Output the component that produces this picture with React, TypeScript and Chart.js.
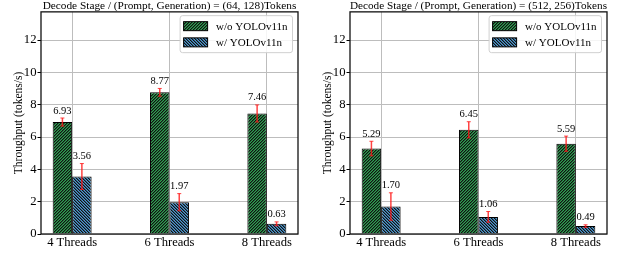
import React, { useEffect, useRef } from "react";
import { Chart, registerables } from "chart.js";

Chart.register(...registerables);

// ---------------- data ----------------
const categories = ["4 Threads", "6 Threads", "8 Threads"];
const seriesNames = ["w/o YOLOv11n", "w/ YOLOv11n"];
const titleLeft = "Decode Stage / (Prompt, Generation) = (64, 128)Tokens";
const titleRight = "Decode Stage / (Prompt, Generation) = (512, 256)Tokens";
const yLabel = "Throughput (tokens/s)";

const leftWithout = [6.93, 8.77, 7.46];
const leftWith = [3.56, 1.97, 0.63];
const leftWithoutErr = [0.25, 0.24, 0.53];
const leftWithErr = [0.8, 0.53, 0.12];

const rightWithout = [5.29, 6.45, 5.59];
const rightWith = [1.7, 1.06, 0.49];
const rightWithoutErr = [0.45, 0.5, 0.47];
const rightWithErr = [0.85, 0.33, 0.08];

const yMin = 0;
const yMax = 13.75;
const yStep = 2;

// ---------------- styles ----------------
const FONT = "'Liberation Serif', 'Times New Roman', serif";
const GREEN = "#2fa052";
const BLUE = "#4d98d0";
const HATCH = "#111111";

Chart.defaults.font.family = FONT;

function makeHatch(base: string, dir: 1 | -1): CanvasPattern | string {
  const n = 3;
  const c = document.createElement("canvas");
  c.width = n;
  c.height = n;
  const ctx = c.getContext("2d");
  if (!ctx) return base;
  ctx.fillStyle = base;
  ctx.fillRect(0, 0, n, n);
  for (let x = 0; x < n; x++) {
    for (let y = 0; y < n; y++) {
      const k = dir === 1 ? (x + y) % n : (((x - y) % n) + n) % n;
      if (k === 0) {
        ctx.fillStyle = HATCH;
        ctx.fillRect(x, y, 1, 1);
      } else if (k === 1) {
        ctx.fillStyle = "rgba(17,17,17,0.45)";
        ctx.fillRect(x, y, 1, 1);
      }
    }
  }
  return ctx.createPattern(c, "repeat") || base;
}

type PanelProps = {
  title: string;
  without: number[];
  withY: number[];
  withoutErr: number[];
  withErr: number[];
};

function Panel({ title, without, withY, withoutErr, withErr }: PanelProps) {
  const ref = useRef<HTMLCanvasElement | null>(null);

  useEffect(() => {
    if (!ref.current) return;
    const green = makeHatch(GREEN, 1);
    const blue = makeHatch(BLUE, -1);
    const errs = [withoutErr, withErr];
    const vals = [without, withY];
    const patterns = [green, blue];

    const overlay = {
      id: "overlay",
      afterDraw(chart: any) {
        const ctx: CanvasRenderingContext2D = chart.ctx;
        const area = chart.chartArea;
        const ys = chart.scales.y;
        ctx.save();
        // frame
        ctx.strokeStyle = "#111";
        ctx.lineWidth = 1.3;
        ctx.strokeRect(area.left, area.top, area.right - area.left, area.bottom - area.top);

        // error bars + value labels
        for (let d = 0; d < 2; d++) {
          const meta = chart.getDatasetMeta(d);
          meta.data.forEach((el: any, i: number) => {
            const v = vals[d][i];
            const e = errs[d][i];
            const x = el.x;
            const yTop = ys.getPixelForValue(v + e);
            const yBot = ys.getPixelForValue(v - e);
            ctx.strokeStyle = "rgba(255,20,20,0.8)";
            ctx.lineWidth = 1.5;
            ctx.beginPath();
            ctx.moveTo(x, yTop);
            ctx.lineTo(x, yBot);
            ctx.stroke();
            ctx.lineWidth = 1;
            ctx.beginPath();
            ctx.moveTo(x - 2, yTop);
            ctx.lineTo(x + 2, yTop);
            ctx.moveTo(x - 2, yBot);
            ctx.lineTo(x + 2, yBot);
            ctx.stroke();

            ctx.fillStyle = "#000";
            ctx.font = `10.5px ${FONT}`;
            ctx.textAlign = "center";
            ctx.textBaseline = "alphabetic";
            ctx.fillText(v.toFixed(2), x, yTop - 4.5);
          });
        }

        // legend
        ctx.font = `11px ${FONT}`;
        const tw = Math.max(...seriesNames.map((s) => ctx.measureText(s).width));
        const bw = 36 + tw + 5;
        const bh = 37;
        const bx = area.right - 5.5 - bw;
        const by = area.top + 3.8;
        ctx.beginPath();
        const r = 2.5;
        ctx.moveTo(bx + r, by);
        ctx.lineTo(bx + bw - r, by);
        ctx.arcTo(bx + bw, by, bx + bw, by + r, r);
        ctx.lineTo(bx + bw, by + bh - r);
        ctx.arcTo(bx + bw, by + bh, bx + bw - r, by + bh, r);
        ctx.lineTo(bx + r, by + bh);
        ctx.arcTo(bx, by + bh, bx, by + bh - r, r);
        ctx.lineTo(bx, by + r);
        ctx.arcTo(bx, by, bx + r, by, r);
        ctx.closePath();
        ctx.fillStyle = "rgba(255,255,255,0.85)";
        ctx.fill();
        ctx.strokeStyle = "#d0d0d0";
        ctx.lineWidth = 1;
        ctx.stroke();
        for (let d = 0; d < 2; d++) {
          const sy = by + 6 + d * 16.2;
          ctx.fillStyle = patterns[d] as any;
          ctx.fillRect(bx + 3.5, sy, 24, 9);
          ctx.strokeStyle = "#000";
          ctx.lineWidth = 1;
          ctx.strokeRect(bx + 3.5, sy, 24, 9);
          ctx.fillStyle = "#000";
          ctx.textAlign = "left";
          ctx.textBaseline = "middle";
          ctx.fillText(seriesNames[d], bx + 36, sy + 5);
        }
        ctx.restore();
      },
    };

    const chart = new Chart(ref.current, {
      type: "bar",
      data: {
        datasets: [
          {
            label: seriesNames[0],
            data: without.map((v, i) => ({ x: i, y: v })),
            backgroundColor: green as any,
            borderColor: "#000",
            borderWidth: 1,
            categoryPercentage: 0.4,
            barPercentage: 1,
          },
          {
            label: seriesNames[1],
            data: withY.map((v, i) => ({ x: i, y: v })),
            backgroundColor: blue as any,
            borderColor: "#000",
            borderWidth: 1,
            categoryPercentage: 0.4,
            barPercentage: 1,
          },
        ],
      },
      options: {
        animation: false,
        responsive: false,
        events: [],
        layout: { padding: { left: 0, right: 11, top: 0, bottom: 0 } },
        plugins: {
          legend: { display: false },
          tooltip: { enabled: false },
          title: {
            display: true,
            text: title,
            fullSize: false,
            padding: 0,
            color: "#000",
            font: { family: FONT, size: 11.3, weight: "normal", lineHeight: 1.05 },
          },
        },
        scales: {
          x: {
            type: "linear",
            min: -0.32,
            max: 2.32,
            offset: false,
            z: 1,
            afterFit: (s: any) => {
              s.height = 19;
            },
            grid: { color: "#bdbdbd", lineWidth: 1, drawTicks: false, tickLength: 0, offset: false },
            border: { display: false },
            ticks: {
              stepSize: 1,
              includeBounds: false,
              autoSkip: false,
              maxRotation: 0,
              padding: 1,
              color: "#000",
              font: { family: FONT, size: 12.6 },
              callback: (v: any) => categories[Number(v)] ?? "",
            },
          },
          y: {
            min: yMin,
            max: yMax,
            z: 1,
            afterFit: (s: any) => {
              s.width = 41;
            },
            grid: { color: "#bdbdbd", lineWidth: 1, drawTicks: true, tickLength: 3.5, tickColor: "#000", tickWidth: 1 },
            border: { display: false },
            ticks: {
              stepSize: yStep,
              includeBounds: false,
              padding: 1,
              color: "#000",
              font: { family: FONT, size: 12.7 },
            },
            title: {
              display: true,
              text: yLabel,
              color: "#000",
              padding: { top: 12, bottom: 0 },
              font: { family: FONT, size: 11.5 },
            },
          },
        },
      } as any,
      plugins: [overlay],
    });
    return () => chart.destroy();
  }, [title, without, withY, withoutErr, withErr]);

  return <canvas ref={ref} width={309} height={253} style={{ display: "block", width: 309, height: 253 }} />;
}

export default function App() {
  return (
    <div style={{ position: "absolute", left: 0, top: 0, width: 618, height: 253, display: "flex", background: "#fff" }}>
      <Panel title={titleLeft} without={leftWithout} withY={leftWith} withoutErr={leftWithoutErr} withErr={leftWithErr} />
      <Panel title={titleRight} without={rightWithout} withY={rightWith} withoutErr={rightWithoutErr} withErr={rightWithErr} />
    </div>
  );
}
